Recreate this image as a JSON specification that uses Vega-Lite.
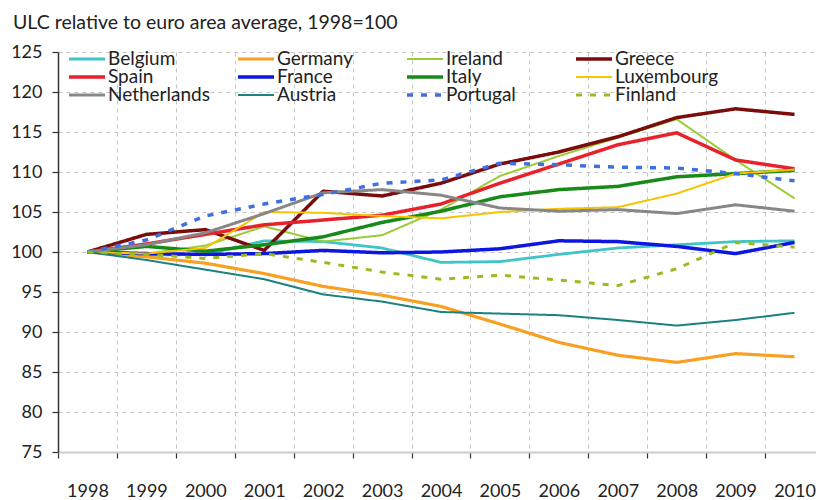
{
  "$schema": "https://vega.github.io/schema/vega-lite/v6.json",
  "width": 758,
  "height": 400,
  "autosize": "none",
  "padding": {"left": 58, "top": 52, "right": 0, "bottom": 48},
  "background": "white",
  "title": {"text": "ULC relative to euro area average, 1998=100", "anchor": "start", "frame": "group", "dx": -45, "dy": 34, "offset": 29, "baseline": "alphabetic", "fontSize": 19.5, "fontWeight": "normal", "font": "Lato", "color": "#222"},
  "datasets": {
    "ulc": [
      {"country": "Belgium", "year": "1998", "value": 100}, {"country": "Belgium", "year": "1999", "value": 99.6}, {"country": "Belgium", "year": "2000", "value": 99.7}, {"country": "Belgium", "year": "2001", "value": 101.4}, {"country": "Belgium", "year": "2002", "value": 101.3}, {"country": "Belgium", "year": "2003", "value": 100.5}, {"country": "Belgium", "year": "2004", "value": 98.7}, {"country": "Belgium", "year": "2005", "value": 98.8}, {"country": "Belgium", "year": "2006", "value": 99.7}, {"country": "Belgium", "year": "2007", "value": 100.5}, {"country": "Belgium", "year": "2008", "value": 100.9}, {"country": "Belgium", "year": "2009", "value": 101.3}, {"country": "Belgium", "year": "2010", "value": 101.4},
      {"country": "Germany", "year": "1998", "value": 100}, {"country": "Germany", "year": "1999", "value": 99.4}, {"country": "Germany", "year": "2000", "value": 98.6}, {"country": "Germany", "year": "2001", "value": 97.3}, {"country": "Germany", "year": "2002", "value": 95.7}, {"country": "Germany", "year": "2003", "value": 94.6}, {"country": "Germany", "year": "2004", "value": 93.2}, {"country": "Germany", "year": "2005", "value": 91.0}, {"country": "Germany", "year": "2006", "value": 88.7}, {"country": "Germany", "year": "2007", "value": 87.1}, {"country": "Germany", "year": "2008", "value": 86.2}, {"country": "Germany", "year": "2009", "value": 87.3}, {"country": "Germany", "year": "2010", "value": 86.9},
      {"country": "Ireland", "year": "1998", "value": 100}, {"country": "Ireland", "year": "1999", "value": 99.8}, {"country": "Ireland", "year": "2000", "value": 100.8}, {"country": "Ireland", "year": "2001", "value": 103.2}, {"country": "Ireland", "year": "2002", "value": 101.3}, {"country": "Ireland", "year": "2003", "value": 102.1}, {"country": "Ireland", "year": "2004", "value": 105.3}, {"country": "Ireland", "year": "2005", "value": 109.5}, {"country": "Ireland", "year": "2006", "value": 112.0}, {"country": "Ireland", "year": "2007", "value": 114.3}, {"country": "Ireland", "year": "2008", "value": 116.6}, {"country": "Ireland", "year": "2009", "value": 111.5}, {"country": "Ireland", "year": "2010", "value": 106.7},
      {"country": "Greece", "year": "1998", "value": 100}, {"country": "Greece", "year": "1999", "value": 102.2}, {"country": "Greece", "year": "2000", "value": 102.8}, {"country": "Greece", "year": "2001", "value": 100.2}, {"country": "Greece", "year": "2002", "value": 107.6}, {"country": "Greece", "year": "2003", "value": 107.0}, {"country": "Greece", "year": "2004", "value": 108.6}, {"country": "Greece", "year": "2005", "value": 111.0}, {"country": "Greece", "year": "2006", "value": 112.5}, {"country": "Greece", "year": "2007", "value": 114.4}, {"country": "Greece", "year": "2008", "value": 116.8}, {"country": "Greece", "year": "2009", "value": 117.9}, {"country": "Greece", "year": "2010", "value": 117.2},
      {"country": "Spain", "year": "1998", "value": 100}, {"country": "Spain", "year": "1999", "value": 101.0}, {"country": "Spain", "year": "2000", "value": 102.2}, {"country": "Spain", "year": "2001", "value": 103.4}, {"country": "Spain", "year": "2002", "value": 104.0}, {"country": "Spain", "year": "2003", "value": 104.6}, {"country": "Spain", "year": "2004", "value": 106.0}, {"country": "Spain", "year": "2005", "value": 108.6}, {"country": "Spain", "year": "2006", "value": 111.0}, {"country": "Spain", "year": "2007", "value": 113.4}, {"country": "Spain", "year": "2008", "value": 114.9}, {"country": "Spain", "year": "2009", "value": 111.5}, {"country": "Spain", "year": "2010", "value": 110.4},
      {"country": "France", "year": "1998", "value": 100}, {"country": "France", "year": "1999", "value": 99.8}, {"country": "France", "year": "2000", "value": 99.7}, {"country": "France", "year": "2001", "value": 99.8}, {"country": "France", "year": "2002", "value": 100.2}, {"country": "France", "year": "2003", "value": 99.9}, {"country": "France", "year": "2004", "value": 100.0}, {"country": "France", "year": "2005", "value": 100.4}, {"country": "France", "year": "2006", "value": 101.4}, {"country": "France", "year": "2007", "value": 101.3}, {"country": "France", "year": "2008", "value": 100.7}, {"country": "France", "year": "2009", "value": 99.8}, {"country": "France", "year": "2010", "value": 101.2},
      {"country": "Italy", "year": "1998", "value": 100}, {"country": "Italy", "year": "1999", "value": 100.7}, {"country": "Italy", "year": "2000", "value": 100.1}, {"country": "Italy", "year": "2001", "value": 100.9}, {"country": "Italy", "year": "2002", "value": 101.9}, {"country": "Italy", "year": "2003", "value": 103.7}, {"country": "Italy", "year": "2004", "value": 105.1}, {"country": "Italy", "year": "2005", "value": 106.9}, {"country": "Italy", "year": "2006", "value": 107.8}, {"country": "Italy", "year": "2007", "value": 108.2}, {"country": "Italy", "year": "2008", "value": 109.4}, {"country": "Italy", "year": "2009", "value": 109.8}, {"country": "Italy", "year": "2010", "value": 110.2},
      {"country": "Luxembourg", "year": "1998", "value": 100}, {"country": "Luxembourg", "year": "1999", "value": 99.8}, {"country": "Luxembourg", "year": "2000", "value": 100.5}, {"country": "Luxembourg", "year": "2001", "value": 105.0}, {"country": "Luxembourg", "year": "2002", "value": 104.9}, {"country": "Luxembourg", "year": "2003", "value": 104.5}, {"country": "Luxembourg", "year": "2004", "value": 104.2}, {"country": "Luxembourg", "year": "2005", "value": 105.0}, {"country": "Luxembourg", "year": "2006", "value": 105.4}, {"country": "Luxembourg", "year": "2007", "value": 105.6}, {"country": "Luxembourg", "year": "2008", "value": 107.3}, {"country": "Luxembourg", "year": "2009", "value": 109.8}, {"country": "Luxembourg", "year": "2010", "value": 110.3},
      {"country": "Netherlands", "year": "1998", "value": 100}, {"country": "Netherlands", "year": "1999", "value": 100.9}, {"country": "Netherlands", "year": "2000", "value": 102.4}, {"country": "Netherlands", "year": "2001", "value": 104.8}, {"country": "Netherlands", "year": "2002", "value": 107.4}, {"country": "Netherlands", "year": "2003", "value": 107.8}, {"country": "Netherlands", "year": "2004", "value": 107.1}, {"country": "Netherlands", "year": "2005", "value": 105.5}, {"country": "Netherlands", "year": "2006", "value": 105.1}, {"country": "Netherlands", "year": "2007", "value": 105.3}, {"country": "Netherlands", "year": "2008", "value": 104.8}, {"country": "Netherlands", "year": "2009", "value": 105.9}, {"country": "Netherlands", "year": "2010", "value": 105.1},
      {"country": "Austria", "year": "1998", "value": 100}, {"country": "Austria", "year": "1999", "value": 99.0}, {"country": "Austria", "year": "2000", "value": 97.8}, {"country": "Austria", "year": "2001", "value": 96.6}, {"country": "Austria", "year": "2002", "value": 94.7}, {"country": "Austria", "year": "2003", "value": 93.8}, {"country": "Austria", "year": "2004", "value": 92.5}, {"country": "Austria", "year": "2005", "value": 92.3}, {"country": "Austria", "year": "2006", "value": 92.1}, {"country": "Austria", "year": "2007", "value": 91.5}, {"country": "Austria", "year": "2008", "value": 90.8}, {"country": "Austria", "year": "2009", "value": 91.5}, {"country": "Austria", "year": "2010", "value": 92.4},
      {"country": "Portugal", "year": "1998", "value": 100}, {"country": "Portugal", "year": "1999", "value": 101.5}, {"country": "Portugal", "year": "2000", "value": 104.5}, {"country": "Portugal", "year": "2001", "value": 106.0}, {"country": "Portugal", "year": "2002", "value": 107.2}, {"country": "Portugal", "year": "2003", "value": 108.6}, {"country": "Portugal", "year": "2004", "value": 109.0}, {"country": "Portugal", "year": "2005", "value": 111.1}, {"country": "Portugal", "year": "2006", "value": 110.9}, {"country": "Portugal", "year": "2007", "value": 110.6}, {"country": "Portugal", "year": "2008", "value": 110.5}, {"country": "Portugal", "year": "2009", "value": 109.8}, {"country": "Portugal", "year": "2010", "value": 108.9},
      {"country": "Finland", "year": "1998", "value": 100}, {"country": "Finland", "year": "1999", "value": 99.7}, {"country": "Finland", "year": "2000", "value": 99.2}, {"country": "Finland", "year": "2001", "value": 99.8}, {"country": "Finland", "year": "2002", "value": 98.7}, {"country": "Finland", "year": "2003", "value": 97.5}, {"country": "Finland", "year": "2004", "value": 96.6}, {"country": "Finland", "year": "2005", "value": 97.1}, {"country": "Finland", "year": "2006", "value": 96.5}, {"country": "Finland", "year": "2007", "value": 95.8}, {"country": "Finland", "year": "2008", "value": 97.9}, {"country": "Finland", "year": "2009", "value": 101.2}, {"country": "Finland", "year": "2010", "value": 100.6}
    ]
  },
  "data": {"name": "ulc"},
  "mark": {"type": "line", "strokeCap": "butt", "strokeJoin": "round"},
  "encoding": {
    "x": {
      "field": "year", "type": "ordinal",
      "scale": {"type": "band", "paddingInner": 0, "paddingOuter": 0, "range": [0, 766]},
      "axis": {"title": null, "labelAngle": 0, "tickBand": "extent", "grid": true, "gridDash": [4, 4], "gridColor": "#c4c4c4", "gridWidth": 1, "domainColor": "#cccccc", "domainWidth": 2, "tickColor": "#333333", "tickSize": 6, "tickWidth": 1.2, "labelFont": "Lato", "labelFontSize": 18, "labelColor": "#222222", "labelPadding": 24, "labelBaseline": "top"}
    },
    "y": {
      "field": "value", "type": "quantitative",
      "scale": {"domain": [75, 125], "nice": false, "zero": false},
      "axis": {"title": null, "values": [75, 80, 85, 90, 95, 100, 105, 110, 115, 120, 125], "grid": true, "gridDash": [4, 4], "gridColor": "#c4c4c4", "gridWidth": 1, "domainColor": "#333333", "domainWidth": 1.5, "tickColor": "#333333", "tickSize": 6, "tickWidth": 1.2, "labelFont": "Lato", "labelFontSize": 18, "labelColor": "#222222", "labelPadding": 10}
    },
    "color": {
      "field": "country", "type": "nominal",
      "scale": {
        "domain": ["Belgium", "Germany", "Ireland", "Greece", "Spain", "France", "Italy", "Luxembourg", "Netherlands", "Austria", "Portugal", "Finland"],
        "range": ["#3fc4c8", "#f7a021", "#9ccc35", "#7a0c0c", "#e8212b", "#0c16e0", "#178a1a", "#f6c400", "#878787", "#1d8080", "#3f6fe0", "#99bb22"]
      },
      "legend": {"title": null, "orient": "none", "legendX": 9, "legendY": -1, "columns": 4, "direction": "horizontal", "gridAlign": "all", "columnPadding": 24, "rowPadding": -1.5, "clipHeight": 16, "padding": 0, "symbolType": "stroke", "symbolSize": 1296, "labelFont": "Lato", "labelFontSize": 19, "labelColor": "#222222", "labelOffset": 1}
    },
    "strokeDash": {
      "field": "country", "type": "nominal",
      "scale": {
        "domain": ["Belgium", "Germany", "Ireland", "Greece", "Spain", "France", "Italy", "Luxembourg", "Netherlands", "Austria", "Portugal", "Finland"],
        "range": [[1, 0], [1, 0], [1, 0], [1, 0], [1, 0], [1, 0], [1, 0], [1, 0], [1, 0], [1, 0], [6, 8], [6, 8]]
      },
      "legend": {"title": null, "orient": "none", "legendX": 9, "legendY": -1, "columns": 4, "direction": "horizontal", "gridAlign": "all", "columnPadding": 24, "rowPadding": -1.5, "clipHeight": 16, "padding": 0, "symbolType": "stroke", "symbolSize": 1296, "labelFont": "Lato", "labelFontSize": 19, "labelColor": "#222222", "labelOffset": 1}
    },
    "strokeWidth": {
      "field": "country", "type": "nominal",
      "scale": {
        "type": "ordinal",
        "domain": ["Belgium", "Germany", "Ireland", "Greece", "Spain", "France", "Italy", "Luxembourg", "Netherlands", "Austria", "Portugal", "Finland"],
        "range": [2.8, 3.2, 2, 3.5, 3.5, 3.5, 3.5, 2, 3, 2, 3.5, 3]
      },
      "legend": {"title": null, "orient": "none", "legendX": 9, "legendY": -1, "columns": 4, "direction": "horizontal", "gridAlign": "all", "columnPadding": 24, "rowPadding": -1.5, "clipHeight": 16, "padding": 0, "symbolType": "stroke", "symbolSize": 1296, "labelFont": "Lato", "labelFontSize": 19, "labelColor": "#222222", "labelOffset": 1}
    }
  },
  "config": {"view": {"stroke": null}}
}
